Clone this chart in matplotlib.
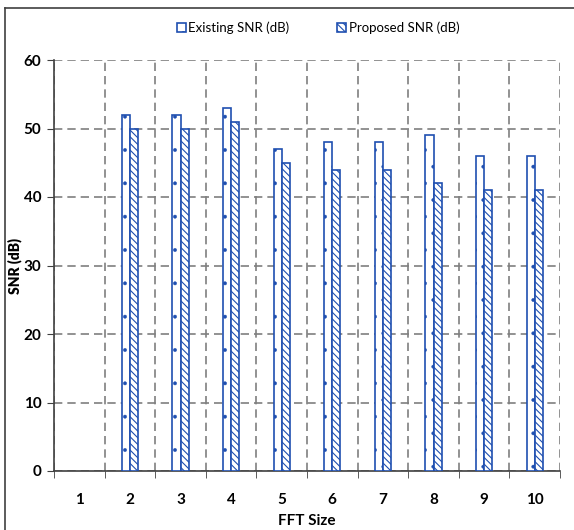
import matplotlib
matplotlib.use("Agg")
import matplotlib.pyplot as plt
import numpy as np
from matplotlib.patches import Rectangle
from matplotlib.lines import Line2D

categories = ["1", "2", "3", "4", "5", "6", "7", "8", "9", "10"]
existing_snr = [0, 52, 52, 53, 47, 48, 48, 49, 46, 46]
proposed_snr = [0, 50, 50, 51, 45, 44, 44, 42, 41, 41]
y_ticks = [0, 10, 20, 30, 40, 50, 60]

plt.rcParams['font.family'] = ['Lato', 'DejaVu Sans']
plt.rcParams['hatch.linewidth'] = 0.8

fig = plt.figure(figsize=(5.74, 5.30), dpi=100)
ax = fig.add_axes([54/574, 59/530, 506/574, 411/530])

x = np.arange(len(categories))
blue = '#1f4fb0'
w = 0.16
lw_e = [0 if v == 0 else 1.2 for v in existing_snr]
lw_p = [0 if v == 0 else 1.2 for v in proposed_snr]
b1 = ax.bar(x, existing_snr, width=-w, align='edge', facecolor='white', edgecolor=blue,
            hatch='.', linewidth=lw_e, label='Existing SNR (dB)', zorder=3)
b2 = ax.bar(x, proposed_snr, width=w, align='edge', facecolor='white', edgecolor=blue,
            hatch='\\\\\\\\\\', linewidth=lw_p, label='Proposed SNR (dB)', zorder=3)
for p in b1:
    try:
        p.set_hatch_linewidth(0.3)
    except Exception:
        pass

ax.set_xlim(-0.5, len(categories) - 0.5)
ax.set_ylim(0, 60)
ax.set_yticks(y_ticks)
ax.set_xticks(x)
ax.set_xticklabels(categories)
ax.set_xticks(np.arange(len(categories) + 1) - 0.5, minor=True)

grid_kw = dict(color='#7f7f7f', linestyle=(0, (5, 3)), linewidth=1.2)
ax.yaxis.grid(True, **grid_kw)
ax.xaxis.grid(True, which='minor', **grid_kw)
ax.set_axisbelow(True)

ax.spines['top'].set_visible(False)
ax.spines['right'].set_visible(False)
ax.spines['left'].set_color('#404040')
ax.spines['bottom'].set_color('#404040')
ax.spines['left'].set_linewidth(1.2)
ax.spines['bottom'].set_linewidth(1.2)

ax.tick_params(axis='x', which='major', length=0, pad=16, labelsize=11)
ax.tick_params(axis='x', which='minor', length=5, direction='out', color='#404040')
ax.tick_params(axis='y', length=5, direction='out', color='#404040', labelsize=11, pad=4)
for lab in ax.get_xticklabels() + ax.get_yticklabels():
    lab.set_fontweight('bold')

ax.set_xlabel('FFT Size', fontsize=11, fontweight='bold', labelpad=5)
ax.set_ylabel('SNR (dB)', fontsize=10, fontweight='heavy')
ax.yaxis.set_label_coords((22 - 54) / 506, 0.5)

handles = [Rectangle((0, 0), 1, 1, facecolor='white', edgecolor=blue, hatch='.', linewidth=1.2),
           Rectangle((0, 0), 1, 1, facecolor='white', edgecolor=blue, hatch='\\\\\\\\\\', linewidth=1.2)]
fig.legend(handles, ['Existing SNR (dB)', 'Proposed SNR (dB)'], loc='center',
           bbox_to_anchor=(318/574, 1 - 28/530), ncol=2, frameon=False,
           fontsize=9.5, handlelength=0.7, handleheight=0.7, handletextpad=0.2,
           columnspacing=3.6)

# figure frame (left and top edges)
fig.add_artist(Line2D([5/574, 5/574], [0, 1 - 8/530], transform=fig.transFigure,
                      color='#404040', linewidth=1.2))
fig.add_artist(Line2D([5/574, 1], [1 - 8/530, 1 - 8/530], transform=fig.transFigure,
                      color='#404040', linewidth=1.2))

fig.savefig('out.png', dpi=100)
